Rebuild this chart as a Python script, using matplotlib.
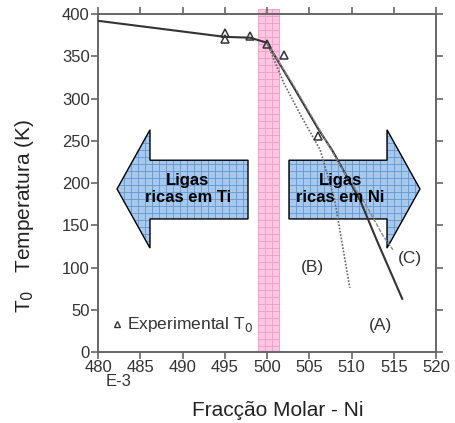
import numpy as np
import matplotlib
matplotlib.use('Agg')
from matplotlib import pyplot as plt
from matplotlib.patches import Polygon

plt.rcParams['font.family'] = ['Liberation Sans', 'DejaVu Sans']

# main curve (solid), Ti-rich side and branch (A)
main_x = [480, 495, 498, 500, 503, 506, 507.7, 511, 513, 516]
main_y = [392, 373, 372, 366, 316, 265, 239, 180, 132, 63]
# branch (B), dotted
b_x = [500, 502, 504, 506.3, 508, 509.8]
b_y = [366, 318, 280, 239, 180, 76]
# branch (C), light dashed
c_x = [500, 503, 506, 509, 511.6, 513.7, 514.9]
c_y = [366, 318, 267, 215, 176, 138, 121]
# experimental T0 points
exp_x = [495, 495, 498, 500, 502, 506]
exp_y = [378, 371, 374, 364, 352, 256]

fig = plt.figure(figsize=(4.55, 4.23), dpi=100)
ax = fig.add_axes([0.2154, 0.1678, 0.7429, 0.799])
ax.set_xlim(480, 520)
ax.set_ylim(0, 400)

grey = '#666666'
for s in ax.spines.values():
    s.set_color(grey)
    s.set_linewidth(1.4)
ax.set_xticks(range(480, 521, 5))
ax.set_yticks(range(0, 401, 50))
ax.tick_params(direction='out', length=5, width=1.2, color=grey,
               labelsize=12, labelcolor='#333333', pad=1,
               top=True, right=True)


def grid_patch(verts, face, line, dx, dy, z):
    poly = Polygon(verts, closed=True, facecolor=face, edgecolor='none',
                   zorder=z, clip_on=False)
    ax.add_patch(poly)
    xs = [v[0] for v in verts]
    ys = [v[1] for v in verts]
    segs = []
    for gx in np.arange(min(xs), max(xs), dx):
        segs.append(([gx, gx], [min(ys), max(ys)]))
    for gy in np.arange(min(ys), max(ys), dy):
        segs.append(([min(xs), max(xs)], [gy, gy]))
    for sx, sy in segs:
        l, = ax.plot(sx, sy, color=line, lw=0.6, zorder=z)
        l.set_clip_path(poly)
        l.set_clip_box(None)
    return poly


# pink band round x = 500
band = [(498.9, -1), (501.5, -1), (501.5, 406), (498.9, 406)]
grid_patch(band, '#ffc6e2', '#f29cc8', 0.83, 8.3, 1)

# arrows
left_arrow = [(482.25, 193), (486.15, 263), (486.15, 227), (497.75, 227),
              (497.75, 157.5), (486.15, 157.5), (486.15, 123)]
right_arrow = [(502.6, 227), (514.2, 227), (514.2, 263), (518.1, 193),
               (514.2, 123), (514.2, 157.5), (502.6, 157.5)]
for arr in (left_arrow, right_arrow):
    grid_patch(arr, '#a9c9ec', '#5f97d6', 0.83, 8.3, 2)
    ax.add_patch(Polygon(arr, closed=True, facecolor='none',
                         edgecolor='black', lw=1.0, zorder=2.5, clip_on=False))

ax.text(490.6, 193, 'Ligas\nricas em Ti', ha='center', va='center',
        fontsize=12, fontweight='bold', linespacing=1.15, zorder=6)
ax.text(508.7, 193, 'Ligas\nricas em Ni', ha='center', va='center',
        fontsize=12, fontweight='bold', linespacing=1.15, zorder=6)

# curves
ax.plot(main_x, main_y, color='#333333', lw=1.5, zorder=4)
ax.plot(b_x, b_y, color='#666666', lw=1.2, linestyle=(0, (1, 1)), zorder=4)
ax.plot(c_x, c_y, color='#888888', lw=1.0, linestyle=(0, (3, 1)), zorder=4)
ax.plot(exp_x, exp_y, linestyle='none', marker='^', markersize=6,
        markerfacecolor='none', markeredgecolor='#333333', mew=1.1, zorder=5)

ax.text(513.4, 31, '(A)', ha='center', va='center', fontsize=12.5, color='#333333')
ax.text(505.4, 100, '(B)', ha='center', va='center', fontsize=12.5, color='#333333')
ax.text(516.9, 111, '(C)', ha='center', va='center', fontsize=12.5, color='#333333')

# legend
ax.plot([482.3], [33], linestyle='none', marker='^', markersize=5,
        markerfacecolor='none', markeredgecolor='#333333', mew=1.0)
ax.text(483.4, 33, r'Experimental T$_0$', ha='left', va='center',
        fontsize=12.5, color='#333333')

fig.text(119 / 455, 1 - 381 / 423, 'E-3', ha='center', va='center',
         fontsize=12, color='#333333')

fig.text(278 / 455, 1 - 410 / 423, 'Fracção Molar - Ni', ha='center',
         va='center', fontsize=15, color='#222222')
fig.text(25 / 455, 1 - 216 / 423, r'T$_0$   Temperatura (K)', ha='center',
         va='center', rotation=90, fontsize=15, color='#222222')

fig.savefig('out.png', dpi=100)
